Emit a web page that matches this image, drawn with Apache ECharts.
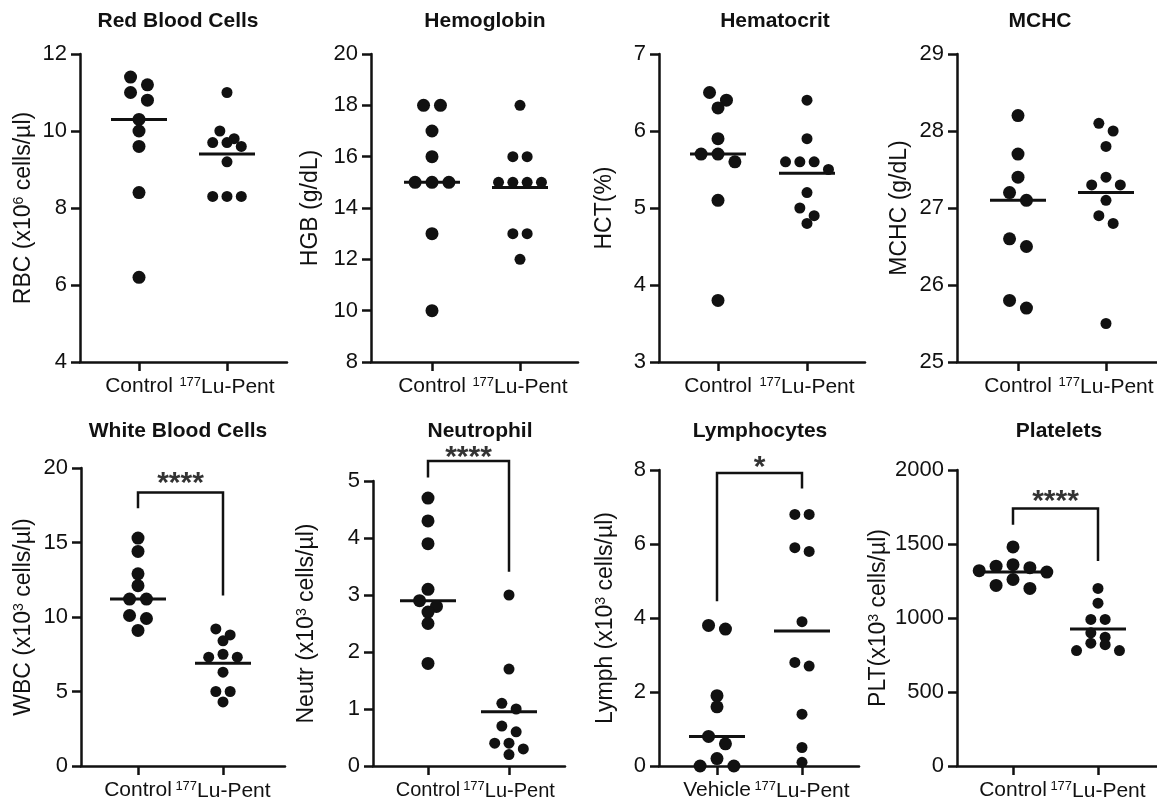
<!DOCTYPE html>
<html>
<head>
<meta charset="utf-8">
<title>Hematology panel</title>
<script src="https://cdn.jsdelivr.net/npm/echarts@6/dist/echarts.min.js"></script>
<style>
  html, body { margin: 0; padding: 0; background: #fff; }
  #main { width: 1157px; height: 804px; }
</style>
</head>
<body>
<div id="main"></div>
<script>
// values (one dot per animal)
var rbcControl = [11.4, 11.2, 11.0, 10.8, 10.3, 10.0, 9.6, 8.4, 6.2];
var rbcLu = [11.0, 10.0, 9.8, 9.7, 9.7, 9.6, 9.2, 8.3, 8.3, 8.3];
var rbcLines = [10.3, 9.4];

var hgbControl = [18, 18, 17, 16, 15, 15, 15, 13, 10];
var hgbLu = [18, 16, 16, 15, 15, 15, 15, 13, 13, 12];
var hgbLines = [15.0, 14.8];

var hctControl = [6.5, 6.4, 6.3, 5.9, 5.7, 5.7, 5.6, 5.1, 3.8];
var hctLu = [6.4, 5.9, 5.6, 5.6, 5.6, 5.5, 5.2, 5.0, 4.9, 4.8];
var hctLines = [5.7, 5.45];

var mchcControl = [28.2, 27.7, 27.4, 27.2, 27.1, 26.6, 26.5, 25.8, 25.7];
var mchcLu = [28.1, 28.0, 27.8, 27.4, 27.3, 27.3, 27.1, 26.9, 26.8, 25.5];
var mchcLines = [27.1, 27.2];

var wbcControl = [15.3, 14.4, 12.9, 12.1, 11.2, 11.2, 10.1, 9.9, 9.1];
var wbcLu = [9.2, 8.8, 8.4, 7.5, 7.3, 7.3, 6.3, 5.0, 5.0, 4.3];
var wbcLines = [11.2, 6.9];

var neutControl = [4.7, 4.3, 3.9, 3.1, 2.9, 2.8, 2.7, 2.5, 1.8];
var neutLu = [3.0, 1.7, 1.1, 1.0, 0.7, 0.6, 0.4, 0.4, 0.3, 0.2];
var neutLines = [2.9, 0.95];

var lymphVehicle = [3.8, 3.7, 1.9, 1.6, 0.8, 0.6, 0.2, 0.0, 0.0];
var lymphLu = [6.8, 6.8, 5.9, 5.8, 3.9, 2.8, 2.7, 1.4, 0.5, 0.1];
var lymphLines = [0.8, 3.65];

var pltControl = [1480, 1360, 1350, 1340, 1320, 1310, 1260, 1220, 1200];
var pltLu = [1200, 1100, 990, 990, 900, 870, 830, 820, 780, 780];
var pltLines = [1310, 925];

// significance brackets: [left arm bottom, bar height, right arm bottom], star height
var wbcBracket = [17.3, 18.35, 11.45], wbcStarY = 18.95;
var neutBracket = [5.06, 5.35, 3.41], neutStarY = 5.4;
var lymphBracket = [4.45, 7.92, 7.5], lymphStarY = 8.05;
var pltBracket = [1630, 1740, 1385], pltStarY = 1785;

var titles = ['Red Blood Cells', 'Hemoglobin', 'Hematocrit', 'MCHC',
  'White Blood Cells', 'Neutrophil', 'Lymphocytes', 'Platelets'];
var yNames = ['RBC (x10{sup|6} cells/µl)', 'HGB (g/dL)', 'HCT(%)', 'MCHC (g/dL)',
  'WBC (x10{sup|3} cells/µl)', 'Neutr (x10{sup|3} cells/µl)', 'Lymph (x10{sup|3} cells/µl)', 'PLT(x10{sup|3} cells/µl)'];
var yRanges = [[4, 12, 2], [8, 20, 2], [3, 7, 1], [25, 29, 1],
  [0, 20, 5], [0, 5, 1], [0, 8, 2], [0, 2000, 500]];

var panels = [
  { a: 'Control', vals: [rbcControl, rbcLu], lines: rbcLines },
  { a: 'Control', vals: [hgbControl, hgbLu], lines: hgbLines },
  { a: 'Control', vals: [hctControl, hctLu], lines: hctLines },
  { a: 'Control', vals: [mchcControl, mchcLu], lines: mchcLines },
  { a: 'Control', vals: [wbcControl, wbcLu], lines: wbcLines, bracket: wbcBracket, star: wbcStarY, sig: '****' },
  { a: 'Control', vals: [neutControl, neutLu], lines: neutLines, bracket: neutBracket, star: neutStarY, sig: '****' },
  { a: 'Vehicle', vals: [lymphVehicle, lymphLu], lines: lymphLines, bracket: lymphBracket, star: lymphStarY, sig: '*' },
  { a: 'Control', vals: [pltControl, pltLu], lines: pltLines, bracket: pltBracket, star: pltStarY, sig: '****' }
];

// page layout (pixels): plot box, the two category centres, title centre, name gap, x label size
var layout = [
  { left: 80, top: 54, width: 207, height: 308, c0: 139, c1: 227, tx: 178, ty: 11, gap: 44, xf: 21 },
  { left: 371, top: 54, width: 207, height: 308, c0: 432, c1: 520, tx: 485, ty: 11, gap: 49, xf: 21 },
  { left: 659, top: 54, width: 206, height: 308, c0: 718, c1: 807, tx: 775, ty: 11, gap: 43, xf: 21 },
  { left: 957, top: 54, width: 200, height: 308, c0: 1018, c1: 1106, tx: 1040, ty: 11, gap: 46, xf: 21 },
  { left: 81, top: 468, width: 204, height: 298, c0: 138, c1: 223, tx: 178, ty: 421, gap: 45, xf: 21 },
  { left: 373, top: 481, width: 192, height: 285, c0: 428, c1: 509, tx: 480, ty: 421, gap: 54, xf: 20 },
  { left: 659, top: 470, width: 200, height: 296, c0: 717, c1: 802, tx: 760, ty: 421, gap: 41, xf: 21 },
  { left: 957, top: 470, width: 200, height: 296, c0: 1013, c1: 1098, tx: 1059, ty: 421, gap: 66, xf: 21 }
];

var FONT = '"Liberation Sans", Arial, Helvetica, sans-serif';
var INK = '#111';
var dotSizes = [13, 11];

// GraphPad-like column scatter: points close in value share a row, rows are centred
function swarm(values, centre, pxX, pxY, size) {
  var order = values.map(function (v, i) { return i; })
    .sort(function (a, b) { return values[b] - values[a]; });
  var rows = [], row = null;
  order.forEach(function (i) {
    if (row && (values[row[0]] - values[i]) * pxY < size * 0.85) row.push(i);
    else { row = [i]; rows.push(row); }
  });
  var out = [];
  rows.forEach(function (r) {
    var n = r.length, slots = [];
    for (var k = 0; k < n; k++) slots.push(k - (n - 1) / 2);
    slots.sort(function (a, b) { return Math.abs(a) - Math.abs(b) || a - b; });
    r.forEach(function (idx, k) {
      out.push([centre + slots[k] * size * 1.3 / pxX, values[idx]]);
    });
  });
  return out;
}

var grids = [], xAxes = [], yAxes = [], series = [], titleOpts = [];

panels.forEach(function (p, i) {
  var L = layout[i], yr = yRanges[i];
  var pxX = L.c1 - L.c0;
  var xmin = -(L.c0 - L.left) / pxX;
  var xmax = xmin + L.width / pxX;
  var pxY = L.height / (yr[1] - yr[0]);

  grids.push({ left: L.left, top: L.top, width: L.width, height: L.height,
    containLabel: false, outerBoundsMode: 'none' });

  titleOpts.push({ text: titles[i], left: L.tx, top: L.ty, textAlign: 'center', padding: 0,
    textStyle: { fontFamily: FONT, fontSize: 21, fontWeight: 'bold', color: INK } });

  xAxes.push({
    gridIndex: i, type: 'value', min: xmin, max: xmax,
    splitLine: { show: false },
    axisLine: { show: true, onZero: false, lineStyle: { color: INK, width: 2.5 } },
    axisTick: { show: true, customValues: [0, 1], length: 9, lineStyle: { color: INK, width: 2.5 } },
    axisLabel: {
      customValues: [0, 1], margin: 14, color: INK, fontFamily: FONT, fontSize: L.xf,
      hideOverlap: false, showMinLabel: true, showMaxLabel: true,
      formatter: function (v) { return v < 0.5 ? p.a : '{sup|177}Lu-Pent'; },
      rich: { sup: { fontFamily: FONT, fontSize: 13, color: INK, padding: [0, 0, 9, 0] } }
    }
  });

  yAxes.push({
    gridIndex: i, type: 'value', min: yr[0], max: yr[1], interval: yr[2],
    splitLine: { show: false },
    axisLine: { show: true, onZero: false, lineStyle: { color: INK, width: 2.5 } },
    axisTick: { show: true, length: 9, lineStyle: { color: INK, width: 2.5 } },
    axisLabel: { margin: 13, color: INK, fontFamily: FONT, fontSize: 22,
      formatter: function (v) { return String(v); } },
    name: yNames[i], nameLocation: 'middle', nameGap: L.gap,
    nameTextStyle: {
      color: INK, fontFamily: FONT, fontSize: 23,
      rich: { sup: { fontFamily: FONT, fontSize: 14, color: INK, padding: [0, 0, 10, 0] } }
    }
  });

  p.vals.forEach(function (vals, g) {
    series.push({
      type: 'scatter', xAxisIndex: i, yAxisIndex: i, z: 3, clip: false,
      symbolSize: dotSizes[g], itemStyle: { color: INK, opacity: 1 },
      data: swarm(vals, g, pxX, pxY, dotSizes[g])
    });
    var hw = 28 / pxX;
    series.push({
      type: 'line', xAxisIndex: i, yAxisIndex: i, z: 2, symbol: 'none',
      lineStyle: { color: INK, width: 3 },
      data: [[g - hw, p.lines[g]], [g + hw, p.lines[g]]]
    });
  });

  if (p.bracket) {
    var b = p.bracket;
    series.push({
      type: 'line', xAxisIndex: i, yAxisIndex: i, z: 2, symbol: 'none', clip: false,
      lineStyle: { color: INK, width: 2.5, join: 'miter', cap: 'butt' },
      data: [[0, b[0]], [0, b[1]], [1, b[1]], [1, b[2]]]
    });
    series.push({
      type: 'scatter', xAxisIndex: i, yAxisIndex: i, z: 4, clip: false, silent: true,
      symbolSize: 2, itemStyle: { color: 'rgba(0,0,0,0)' },
      label: { show: true, position: 'inside', formatter: p.sig,
        color: '#000', fontFamily: FONT, fontSize: 30, fontWeight: 'bold' },
      labelLayout: { hideOverlap: false },
      data: [[0.5, p.star]]
    });
  }
});

var chart = echarts.init(document.getElementById('main'), null, { renderer: 'canvas' });
chart.setOption({
  backgroundColor: '#fff',
  animation: false,
  title: titleOpts,
  grid: grids,
  xAxis: xAxes,
  yAxis: yAxes,
  series: series
});
</script>
</body>
</html>
